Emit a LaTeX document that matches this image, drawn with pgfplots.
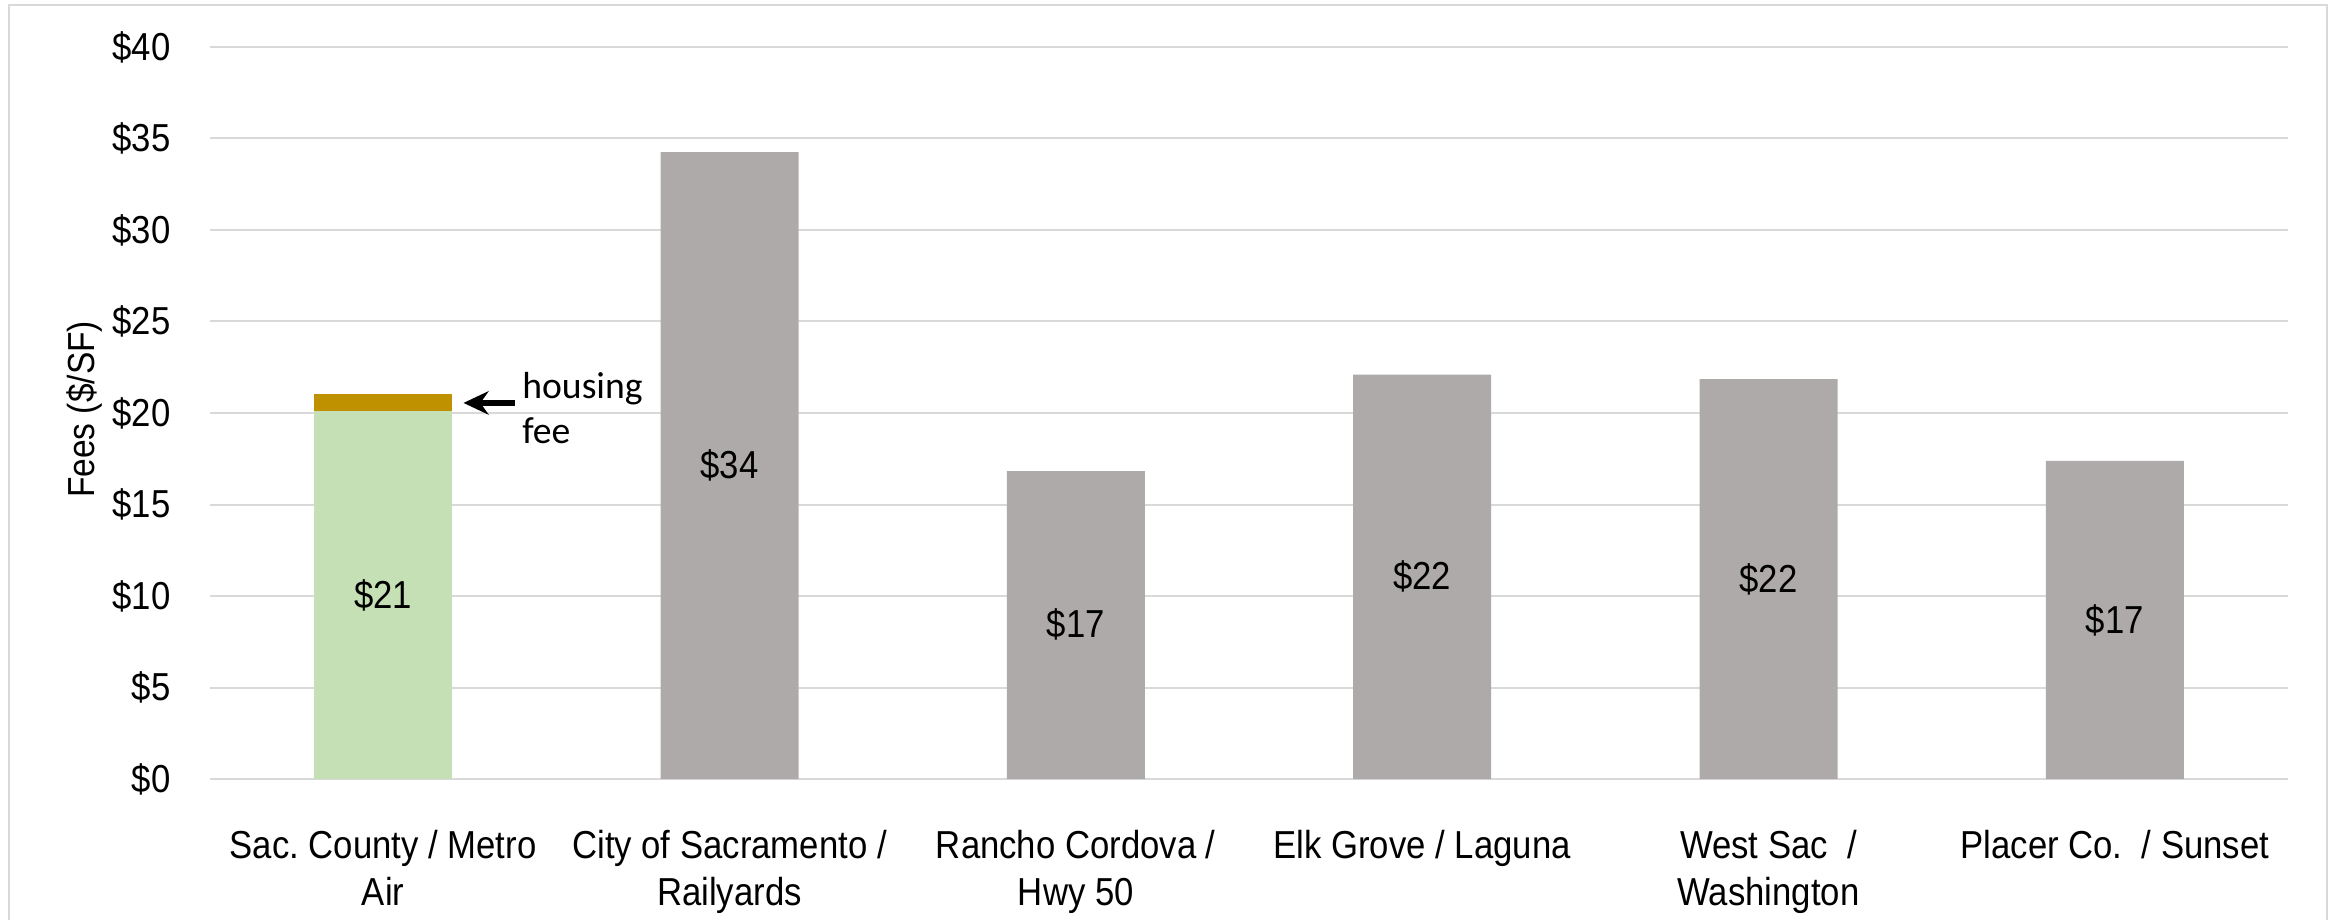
\documentclass[border=0pt]{standalone}
\usepackage{fontspec}
\setmainfont{Liberation Sans}[FakeStretch=0.89]
\newfontfamily\carlito{Carlito}
\usepackage{pgfplots}
\pgfplotsset{compat=1.18}
\usetikzlibrary{arrows.meta}

\definecolor{gridgray}{HTML}{D9D9D9}
\definecolor{bargray}{HTML}{AEAAAA}
\definecolor{bargreen}{HTML}{C5E0B4}
\definecolor{bargold}{HTML}{BF9000}

\newcommand{\chartfont}{\fontsize{11.7}{14.1}\selectfont}

\begin{document}
\frenchspacing
\begin{tikzpicture}
\useasboundingbox (0,0) rectangle (700.8pt,275.7pt);
\draw[gridgray, line width=0.7pt] (2.7pt,-5pt) -- (2.7pt,274.2pt) -- (698.1pt,274.2pt) -- (698.1pt,-5pt);
\begin{axis}[
    at={(63pt,42pt)}, anchor=south west,
    scale only axis,
    width=623.4pt, height=219.6pt,
    xmin=-0.5, xmax=5.5,
    ymin=0, ymax=40,
    ybar, bar width=41.4pt, bar shift=0pt,
    ytick={0,5,10,15,20,25,30,35,40},
    yticklabel={\$\pgfmathprintnumber{\tick}},
    xtick={0,1,2,3,4,5},
    xticklabels={{Sac. County / Metro\\Air},{City of Sacramento /\\Railyards},{Rancho Cordova /\\Hwy 50},{Elk Grove / Laguna},{West Sac\ \ /\\Washington},{Placer Co.\ \ / Sunset}},
    /pgf/number format/assume math mode=true,
    ymajorgrids,
    grid style={draw=gridgray, line width=0.6pt},
    axis line style={draw=none},
    tick style={draw=none},
    tick label style={font=\chartfont},
    yticklabel style={anchor=east, inner sep=0pt, xshift=-11.7pt},
    xticklabel style={anchor=north, align=center, inner sep=0pt, yshift=-10.8pt},
    ylabel={Fees (\$/SF)},
    ylabel style={at={(axis description cs:-0.05534,0.505)}, anchor=base, inner sep=0pt, font=\fontsize{11.3}{13.5}\selectfont},
    clip=false,
]
% housing fee on top of the Sac. County bar (total 21.04)
\addplot[bar shift=0pt, fill=bargold, draw=none] coordinates {(0,21.04)};
\addplot[bar shift=0pt, fill=bargreen, draw=none] coordinates {(0,20.1)};
\addplot[bar shift=0pt, fill=bargray, draw=none] coordinates {
    (1,34.26) (2,16.83) (3,22.1) (4,21.85) (5,17.38)
};
% data labels, centred in each bar
\addplot[bar shift=0pt, draw=none, fill=none,
    point meta=explicit symbolic,
    nodes near coords,
    every node near coord/.append style={anchor=center, inner sep=0pt, font=\chartfont, text=black}]
    coordinates {
    (0,10.05) [\$21] (1,17.13) [\$34] (2,8.42) [\$17]
    (3,11.05) [\$22] (4,10.93) [\$22] (5,8.69) [\$17]
};
\draw[-{Stealth[length=7.5pt,width=7pt]}, line width=1.6pt, black]
    (axis cs:0.38,20.55) -- (axis cs:0.232,20.55);
\node[anchor=base west, align=left, inner sep=0pt,
      font={\carlito\fontsize{11.3}{13.5}\selectfont}]
    at (axis cs:0.40,18.36) {housing\\fee};
\end{axis}
\end{tikzpicture}
\end{document}
